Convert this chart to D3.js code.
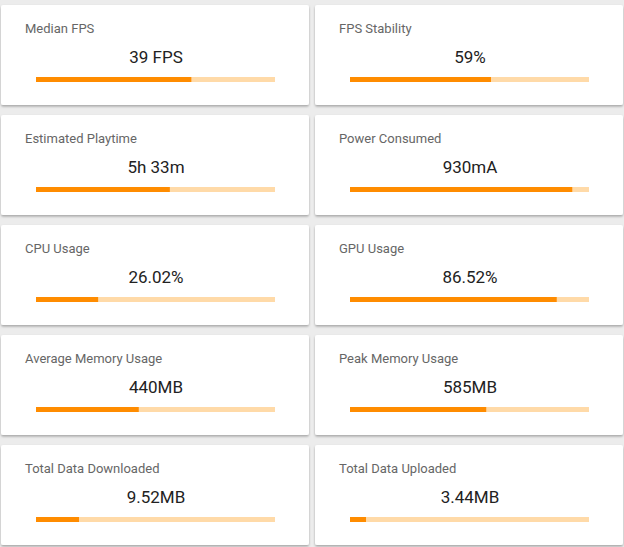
<!DOCTYPE html>
<html lang="en">
<head>
<meta charset="UTF-8">
<script src="https://d3js.org/d3.v7.min.js"></script>
<style>
body { margin: 0; background: #ececec; font-family: Roboto, "Noto Sans", sans-serif; }
</style>
</head>
<body>
<svg width="624" height="547"></svg>
<script>
const titles = ["Median FPS", "FPS Stability", "Estimated Playtime", "Power Consumed",
  "CPU Usage", "GPU Usage", "Average Memory Usage", "Peak Memory Usage",
  "Total Data Downloaded", "Total Data Uploaded"];
const labels = ["39 FPS", "59%", "5h 33m", "930mA", "26.02%", "86.52%", "440MB", "585MB", "9.52MB", "3.44MB"];
const ratios = [0.65, 0.59, 0.56, 0.93, 0.26, 0.865, 0.43, 0.57, 0.18, 0.067];

const svg = d3.select("svg");
const defs = svg.append("defs");
const f = defs.append("filter").attr("id", "sh").attr("x", "-5%").attr("y", "-5%").attr("width", "110%").attr("height", "120%");
f.append("feDropShadow").attr("dx", 0).attr("dy", 1.5).attr("stdDeviation", 1.2).attr("flood-color", "#000").attr("flood-opacity", 0.3);

const cardW = 308, cardH = 100;
const colX = [1, 315], rowY0 = 5, rowStep = 110;
const barScale = d3.scaleLinear().domain([0, 1]).range([0, 239]);

const cards = svg.selectAll("g.card").data(titles).enter().append("g")
  .attr("class", "card")
  .attr("transform", (d, i) => `translate(${colX[i % 2]},${rowY0 + Math.floor(i / 2) * rowStep})`);

cards.append("rect").attr("width", cardW).attr("height", cardH).attr("rx", 2)
  .attr("fill", "#fff").attr("filter", "url(#sh)");
cards.append("text").attr("x", 24).attr("y", 28).attr("font-size", 13).attr("fill", "#666")
  .text(d => d);
cards.append("text").attr("x", 155).attr("y", 58).attr("text-anchor", "middle")
  .attr("font-size", 17).attr("fill", "#222").text((d, i) => labels[i]);
cards.append("rect").attr("x", 35).attr("y", 72).attr("height", 5)
  .attr("width", barScale(1)).attr("fill", "#ffdaa8");
cards.append("rect").attr("x", 35).attr("y", 72).attr("height", 5)
  .attr("width", (d, i) => barScale(ratios[i])).attr("fill", "#ff8c00");
</script>
</body>
</html>
